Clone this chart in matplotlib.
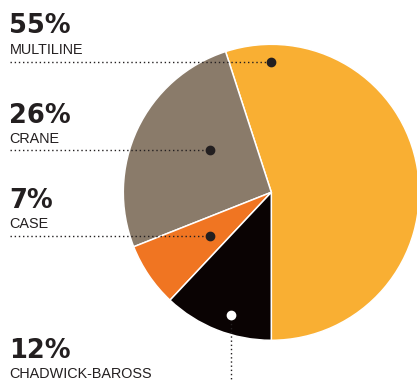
import matplotlib
matplotlib.use('Agg')
import matplotlib.pyplot as plt

# data
labels = ['MULTILINE', 'CRANE', 'CASE', 'CHADWICK-BAROSS']
shares = [55, 26, 7, 12]
colors = ['#F9AF33', '#8A7B6A', '#F07522', '#0A0303']

W, H = 417, 381
fig = plt.figure(figsize=(W / 100, H / 100), dpi=100)
ax = fig.add_axes([0, 0, 1, 1])

def py(y):
    # pixel row (from top) -> data y
    return H - y

cx, cy, r = 271.3, 192.3, 148
ax.pie(shares, colors=colors, startangle=270, counterclock=True,
       center=(cx, py(cy)), radius=r, frame=True,
       wedgeprops=dict(edgecolor='white', linewidth=1.1))
ax.set_xlim(0, W)
ax.set_ylim(0, H)
ax.axis('off')

txt = '#231F20'
name_font = ['Liberation Sans', 'DejaVu Sans']
# label block: (pct baseline, name baseline, leader y, dot x)
rows = [(33, 54, 62, 271.3), (123, 143, 149.5, 209.7), (208, 228, 235.5, 209.7)]
for (pb, nb, ly, dx), lab, s in zip(rows, labels[:3], shares[:3]):
    ax.text(9, py(pb), f'{s}%', fontsize=18.5, fontweight='heavy', color=txt,
            va='baseline', ha='left', family='DejaVu Sans')
    ax.text(9.5, py(nb), lab, fontsize=10.4, color=txt, va='baseline', ha='left',
            family=name_font)
    ax.plot([10, dx], [py(ly), py(ly)], color=txt, lw=1.0,
            linestyle=(0, (1, 2)), zorder=3)
    ax.plot([dx], [py(ly)], 'o', color=txt, markersize=6, zorder=4)

# Chadwick-Baross: label at bottom, leader goes up to a white dot
ax.text(9, py(358), f'{shares[3]}%', fontsize=18.5, fontweight='heavy',
        color=txt, va='baseline', ha='left', family='DejaVu Sans')
ax.text(9.5, py(378), labels[3], fontsize=10.4, color=txt, va='baseline',
        ha='left', family=name_font)
ax.plot([230.7, 230.7], [py(315), py(381)], color=txt, lw=1.0,
        linestyle=(0, (1, 2)), zorder=3)
ax.plot([230.7], [py(315.3)], 'o', color='white', markersize=6, zorder=4)

fig.savefig('out.png', dpi=100)
